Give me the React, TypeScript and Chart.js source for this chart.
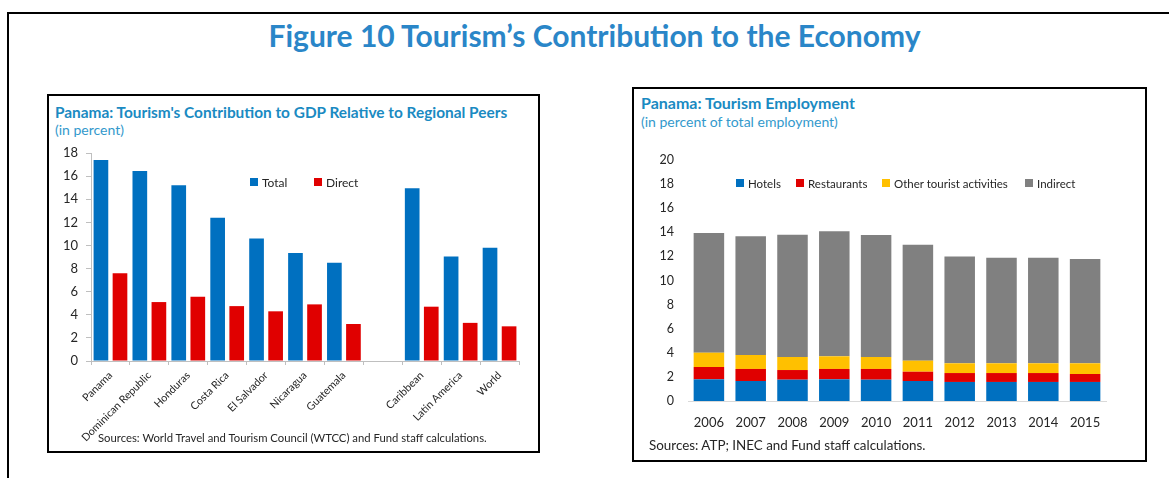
import React, { useEffect, useRef } from "react";
import { Chart, registerables } from "chart.js";

Chart.register(...registerables);

const FONT = "Lato, 'Open Sans', sans-serif";

// Left chart data
const peerCategories = [
  "Panama",
  "Dominican Republic",
  "Honduras",
  "Costa Rica",
  "El Salvador",
  "Nicaragua",
  "Guatemala",
  "",
  "Caribbean",
  "Latin America",
  "World",
];
const totalValues = [17.4, 16.45, 15.2, 12.4, 10.6, 9.35, 8.5, null, 14.95, 9.05, 9.8];
const directValues = [7.6, 5.1, 5.55, 4.75, 4.3, 4.9, 3.2, null, 4.7, 3.3, 3.0];

// Right chart data
const years = ["2006", "2007", "2008", "2009", "2010", "2011", "2012", "2013", "2014", "2015"];
const hotels = [1.8, 1.66, 1.77, 1.8, 1.77, 1.66, 1.58, 1.58, 1.58, 1.58];
const restaurants = [1.02, 1.0, 0.8, 0.86, 0.89, 0.77, 0.74, 0.74, 0.74, 0.66];
const otherTourist = [1.19, 1.16, 1.08, 1.05, 0.99, 0.92, 0.81, 0.81, 0.81, 0.89];
const indirect = [9.93, 9.85, 10.15, 10.37, 10.13, 9.62, 8.87, 8.76, 8.76, 8.65];

const BLUE = "#0070C0";
const RED = "#E00000";
const YELLOW = "#FFC000";
const GRAY = "#808080";
const TICK_COLOR = "#262626";
const AXIS_COLOR = "#BFBFBF";

function PeersChart() {
  const ref = useRef<HTMLCanvasElement | null>(null);
  useEffect(() => {
    if (!ref.current) return;
    const chart = new Chart(ref.current, {
      type: "bar",
      data: {
        labels: peerCategories,
        datasets: [
          {
            label: "Total",
            data: totalValues,
            backgroundColor: BLUE,
            barPercentage: 0.77,
            categoryPercentage: 0.98,
          },
          {
            label: "Direct",
            data: directValues,
            backgroundColor: RED,
            barPercentage: 0.77,
            categoryPercentage: 0.98,
          },
        ],
      },
      options: {
        animation: false,
        responsive: false,
        maintainAspectRatio: false,
        layout: { padding: { top: 13, right: 19, left: 0, bottom: 0 } },
        plugins: { legend: { display: false }, tooltip: { enabled: false } },
        scales: {
          x: {
            grid: { display: true, drawOnChartArea: false, drawTicks: true, tickLength: 4, color: AXIS_COLOR, offset: true },
            border: { display: true, color: AXIS_COLOR },
            ticks: {
              minRotation: 45,
              maxRotation: 45,
              autoSkip: false,
              padding: 4,
              color: TICK_COLOR,
              font: { family: FONT, size: 10.7 },
            },
            afterFit: (s: any) => {
              s.height = 89;
              s.paddingLeft = 0;
              s.paddingRight = 0;
            },
          },
          y: {
            min: 0,
            max: 18,
            grid: { display: true, drawOnChartArea: false, drawTicks: true, tickLength: 5, color: AXIS_COLOR },
            border: { display: true, color: AXIS_COLOR },
            ticks: { stepSize: 2, padding: 8, color: TICK_COLOR, font: { family: FONT, size: 13 } },
            afterFit: (s: any) => {
              s.width = 41;
              s.paddingTop = 0;
              s.paddingBottom = 0;
            },
          },
        },
      },
    });
    return () => chart.destroy();
  }, []);
  return (
    <canvas
      ref={ref}
      width={488}
      height={310}
      style={{ position: "absolute", left: 50, top: 140, width: 488, height: 310 }}
    />
  );
}

function EmploymentChart() {
  const ref = useRef<HTMLCanvasElement | null>(null);
  useEffect(() => {
    if (!ref.current) return;
    const common = { barPercentage: 0.73, categoryPercentage: 1.0 };
    const chart = new Chart(ref.current, {
      type: "bar",
      data: {
        labels: years,
        datasets: [
          { label: "Hotels", data: hotels, backgroundColor: BLUE, ...common },
          { label: "Restaurants", data: restaurants, backgroundColor: RED, ...common },
          { label: "Other tourist activities", data: otherTourist, backgroundColor: YELLOW, ...common },
          { label: "Indirect", data: indirect, backgroundColor: GRAY, ...common },
        ],
      },
      options: {
        animation: false,
        responsive: false,
        maintainAspectRatio: false,
        layout: { padding: { top: 10, right: 38, left: 0, bottom: 0 } },
        plugins: { legend: { display: false }, tooltip: { enabled: false } },
        scales: {
          x: {
            stacked: true,
            grid: { display: false, drawTicks: false },
            border: { display: true, color: "#D9D9D9" },
            ticks: { padding: 14, color: TICK_COLOR, font: { family: FONT, size: 13 } },
            afterFit: (s: any) => {
              s.height = 35;
              s.paddingLeft = 0;
              s.paddingRight = 0;
            },
          },
          y: {
            stacked: true,
            min: 0,
            max: 20,
            grid: { display: false, drawTicks: false },
            border: { display: false },
            ticks: { stepSize: 2, padding: 14, color: TICK_COLOR, font: { family: FONT, size: 12.5 } },
            afterFit: (s: any) => {
              s.width = 52;
              s.paddingTop = 0;
              s.paddingBottom = 0;
            },
          },
        },
      },
    });
    return () => chart.destroy();
  }, []);
  return (
    <canvas
      ref={ref}
      width={508}
      height={286}
      style={{ position: "absolute", left: 636, top: 150, width: 508, height: 286 }}
    />
  );
}

function LegendItem({ x, y, color, text, size }: { x: number; y: number; color: string; text: string; size: number }) {
  return (
    <div
      style={{
        position: "absolute",
        left: x,
        top: y - 9,
        height: 18,
        display: "flex",
        alignItems: "center",
        whiteSpace: "nowrap",
        fontSize: size,
        color: TICK_COLOR,
      }}
    >
      <span style={{ display: "inline-block", width: 8, height: 8, background: color, marginRight: 4 }} />
      <span>{text}</span>
    </div>
  );
}

export default function App() {
  return (
    <div
      style={{
        position: "fixed",
        left: 0,
        top: 0,
        width: 1169,
        height: 478,
        background: "#fff",
        overflow: "hidden",
        fontFamily: FONT,
      }}
    >
      {/* outer frame */}
      <div
        style={{
          position: "absolute",
          left: 7,
          top: 12,
          width: 1200,
          height: 500,
          borderLeft: "2px solid #000",
          borderTop: "2px solid #000",
        }}
      />
      <div
        style={{
          position: "absolute",
          left: 0,
          top: 15,
          width: 1189,
          textAlign: "center",
          fontWeight: 700,
          fontSize: 30,
          lineHeight: "40px",
          color: "#2A86C8",
          whiteSpace: "nowrap",
        }}
      >
        Figure 10 Tourism’s Contribution to the Economy
      </div>

      {/* left panel */}
      <div
        style={{
          position: "absolute",
          left: 47,
          top: 94,
          width: 493,
          height: 359,
          border: "2px solid #000",
          boxSizing: "border-box",
        }}
      />
      <PeersChart />
      <div
        style={{
          position: "absolute",
          left: 55,
          top: 102,
          fontWeight: 700,
          fontSize: 15.4,
          lineHeight: "20px",
          color: "#1A8AC2",
          whiteSpace: "nowrap",
        }}
      >
        Panama: Tourism's Contribution to GDP Relative to Regional Peers
      </div>
      <div
        style={{
          position: "absolute",
          left: 55,
          top: 120,
          fontSize: 14,
          lineHeight: "20px",
          color: "#3399CC",
          whiteSpace: "nowrap",
        }}
      >
        (in percent)
      </div>
      <LegendItem x={250} y={182} color={BLUE} text="Total" size={12} />
      <LegendItem x={314} y={182} color={RED} text="Direct" size={12} />
      <div
        style={{
          position: "absolute",
          left: 98,
          top: 431,
          fontSize: 11.3,
          color: TICK_COLOR,
          whiteSpace: "nowrap",
        }}
      >
        Sources: World Travel and Tourism Council (WTCC) and Fund staff calculations.
      </div>

      {/* right panel */}
      <div
        style={{
          position: "absolute",
          left: 632,
          top: 87,
          width: 515,
          height: 375,
          border: "2px solid #000",
          boxSizing: "border-box",
        }}
      />
      <div
        style={{
          position: "absolute",
          left: 641,
          top: 93,
          fontWeight: 700,
          fontSize: 16,
          lineHeight: "20px",
          color: "#1A8AC2",
          whiteSpace: "nowrap",
        }}
      >
        Panama: Tourism Employment
      </div>
      <div
        style={{
          position: "absolute",
          left: 641,
          top: 112,
          fontSize: 14,
          lineHeight: "20px",
          color: "#3399CC",
          whiteSpace: "nowrap",
        }}
      >
        (in percent of total employment)
      </div>
      <EmploymentChart />
      <LegendItem x={736} y={183} color={BLUE} text="Hotels" size={11.5} />
      <LegendItem x={796} y={183} color={RED} text="Restaurants" size={11.5} />
      <LegendItem x={882} y={183} color={YELLOW} text="Other tourist activities" size={11.5} />
      <LegendItem x={1025} y={183} color={GRAY} text="Indirect" size={11.5} />
      <div
        style={{
          position: "absolute",
          left: 649,
          top: 437,
          fontSize: 13.4,
          color: TICK_COLOR,
          whiteSpace: "nowrap",
        }}
      >
        Sources: ATP; INEC and Fund staff calculations.
      </div>
    </div>
  );
}
